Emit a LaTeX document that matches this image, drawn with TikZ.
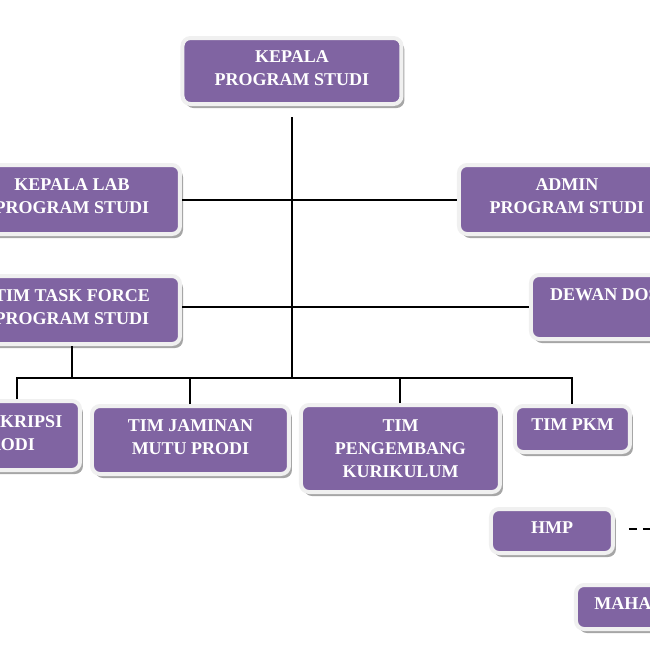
\documentclass[tikz,border=0pt]{standalone}
\usepackage{fontspec}
\setmainfont{Liberation Serif}
\usetikzlibrary{shadows, positioning}
\definecolor{prodipurple}{RGB}{128,100,162}

\begin{document}
\begin{tikzpicture}[x=0.5pt,y=-0.5pt,line width=1pt]
    \tikzstyle{unit}=[shape=rectangle,rounded corners=4pt,fill=prodipurple,draw=gray!12,line width=2pt,
        text=white,font=\fontsize{9}{11.5}\selectfont\bfseries,align=center,inner sep=0pt,text depth=3pt,
        drop shadow={shadow xshift=1.5pt,shadow yshift=-2pt,fill=gray!70,opacity=1}]
    \useasboundingbox (0,0) rectangle (650,650);

    \node[unit,minimum width=109.5pt,minimum height=33pt] (kaprodi) at (292,71) {KEPALA\\PROGRAM STUDI};
    \node[unit,minimum width=108pt,minimum height=34.5pt] (kalab) at (72,199.5) {KEPALA LAB\\PROGRAM STUDI};
    \node[unit,minimum width=108pt,minimum height=34.5pt] (admin) at (567,199.5) {ADMIN\\PROGRAM STUDI};
    \node[unit,minimum width=108pt,minimum height=34pt] (taskforce) at (72,310) {TIM TASK FORCE\\PROGRAM STUDI};
    \node[unit,minimum width=86pt,text height=12.5pt,text depth=19.5pt] (dewan) at (617,307) {DEWAN DOSEN};
    \node[unit,minimum width=74pt,minimum height=34.5pt,text depth=2pt] (skripsi) at (6,435.5) {TIM SKRIPSI\\PRODI};
    \node[unit,minimum width=98.5pt,minimum height=34pt] (jaminan) at (190.5,440) {TIM JAMINAN\\MUTU PRODI};
    \node[unit,minimum width=99.5pt,minimum height=43.5pt,text depth=0pt] (pengembang) at (400.5,448.5) {TIM\\PENGEMBANG\\KURIKULUM};
    \node[unit,minimum width=57.5pt,minimum height=23pt,text depth=4pt] (pkm) at (572.5,429) {TIM PKM};
    \node[unit,minimum width=61pt,minimum height=22pt] (hmp) at (552,531) {HMP};
    \node[unit,minimum width=75pt,minimum height=22pt] (mhs) at (651,607) {MAHASISWA};

    \coordinate (stem) at ([yshift=-5.5pt]kaprodi.south);
    \coordinate (bus) at (292,378);
    \coordinate (hmpout) at (700,529);

    \path[draw]
    (stem) edge node {} (bus)
    (kalab) edge node {} (admin)
    ;
    \draw (taskforce.east |- dewan.west) -- (dewan.west);
    \draw (taskforce.south) -- (taskforce.south |- bus);
    \draw ([xshift=5.5pt]skripsi.north) |- (bus) -| (pkm.north);
    \draw (jaminan.north) -- (jaminan.north |- bus);
    \draw (pengembang.north) -- (pengembang.north |- bus);
    \draw[dash pattern=on 4pt off 3pt] ([xshift=7pt]hmp.east |- hmpout) -- (hmpout);

\end{tikzpicture}
\end{document}
